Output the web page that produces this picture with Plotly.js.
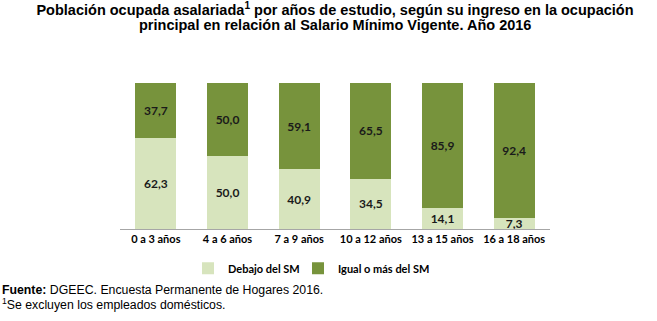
<!DOCTYPE html>
<html>
<head>
<meta charset="utf-8">
<script src="https://cdn.plot.ly/plotly-3.0.1.min.js"></script>
<style>html,body{margin:0;padding:0;background:#fff;}#chart{width:657px;height:321px;}</style>
</head>
<body>
<div id="chart"></div>
<script>
var categories = ["0 a 3 años", "4 a 6 años", "7 a 9 años", "10 a 12 años", "13 a 15 años", "16 a 18 años"];
var debajo = [62.3, 50.0, 40.9, 34.5, 14.1, 7.3];
var igual = [37.7, 50.0, 59.1, 65.5, 85.9, 92.4];
var seriesNames = ["Debajo del SM", "Igual o más del SM"];
var titleLines = [
  "<b>Población ocupada asalariada<sup>1</sup> por años de estudio, según su ingreso en la ocupación</b>",
  "<b>principal en relación al Salario Mínimo Vigente. Año 2016</b>"
];

function fmt(v) { return v.toFixed(1).replace('.', ','); }

var labelFont = {family: "Lato, 'Open Sans', sans-serif", size: 12, color: "#1a1a1a", weight: 700};
var titleFont = {family: "'Liberation Sans', Arial, sans-serif", size: 14.5, color: "#000"};
var legendFont = {family: "Lato, 'Open Sans', sans-serif", size: 11, color: "#000", weight: 700};

var traces = [
  {
    type: "bar", name: seriesNames[0], x: categories, y: debajo,
    marker: {color: "#d7e4bd"}, legend: "legend",
    text: debajo.map(fmt), textposition: "inside", insidetextanchor: "middle",
    textfont: labelFont, hoverinfo: "none"
  },
  {
    type: "bar", name: seriesNames[1], x: categories, y: igual,
    marker: {color: "#77933c"}, legend: "legend2",
    text: igual.map(fmt), textposition: "inside", insidetextanchor: "middle",
    textfont: labelFont, hoverinfo: "none"
  }
];

var layout = {
  width: 657, height: 321,
  margin: {l: 120, r: 107, t: 83, b: 92},
  barmode: "stack",
  bargap: 0.43,
  showlegend: true,
  paper_bgcolor: "#fff", plot_bgcolor: "#fff",
  uniformtext: {mode: "show", minsize: 12},
  title: {
    text: titleLines[0],
    font: titleFont,
    x: 335/657, xanchor: "center", xref: "container", yref: "container", y: 1 - 10/321, yanchor: "middle"
  },
  xaxis: {
    showline: true, linecolor: "#a6a6a6", linewidth: 1,
    ticks: "", showgrid: false, zeroline: false,
    tickfont: {family: "Lato, 'Open Sans', sans-serif", size: 11, color: "#000", weight: 700},
    fixedrange: true
  },
  yaxis: {
    range: [0, 100], showticklabels: false, showgrid: false, zeroline: false,
    showline: false, ticks: "", fixedrange: true
  },
  legend: {
    orientation: "h", x: (188 - 120)/430, xanchor: "left", y: -0.17, yanchor: "top",
    itemwidth: 30, font: legendFont, bgcolor: "rgba(0,0,0,0)"
  },
  legend2: {
    orientation: "h", x: (298 - 120)/430, xanchor: "left", y: -0.17, yanchor: "top",
    itemwidth: 30, font: legendFont, bgcolor: "rgba(0,0,0,0)"
  },
  annotations: [
    {
      xref: "paper", yref: "paper", x: (335 - 120)/430, xanchor: "center", y: (229 - 24.5)/146, yanchor: "middle",
      showarrow: false, align: "center",
      text: titleLines[1],
      font: titleFont
    },
    {
      xref: "paper", yref: "paper", x: -120/430, xanchor: "left", y: (229 - 290)/146, yanchor: "middle",
      showarrow: false, align: "left",
      text: "<b>Fuente:</b> DGEEC. Encuesta Permanente de Hogares 2016.",
      font: {family: "'Liberation Sans', Arial, sans-serif", size: 12.3, color: "#000"}
    },
    {
      xref: "paper", yref: "paper", x: -120/430, xanchor: "left", y: (229 - 304)/146, yanchor: "middle",
      showarrow: false, align: "left",
      text: "<sup>1</sup>Se excluyen los empleados domésticos.",
      font: {family: "'Liberation Sans', Arial, sans-serif", size: 12.3, color: "#000"}
    }
  ]
};

Plotly.newPlot("chart", traces, layout, {staticPlot: true, displayModeBar: false});
</script>
</body>
</html>
